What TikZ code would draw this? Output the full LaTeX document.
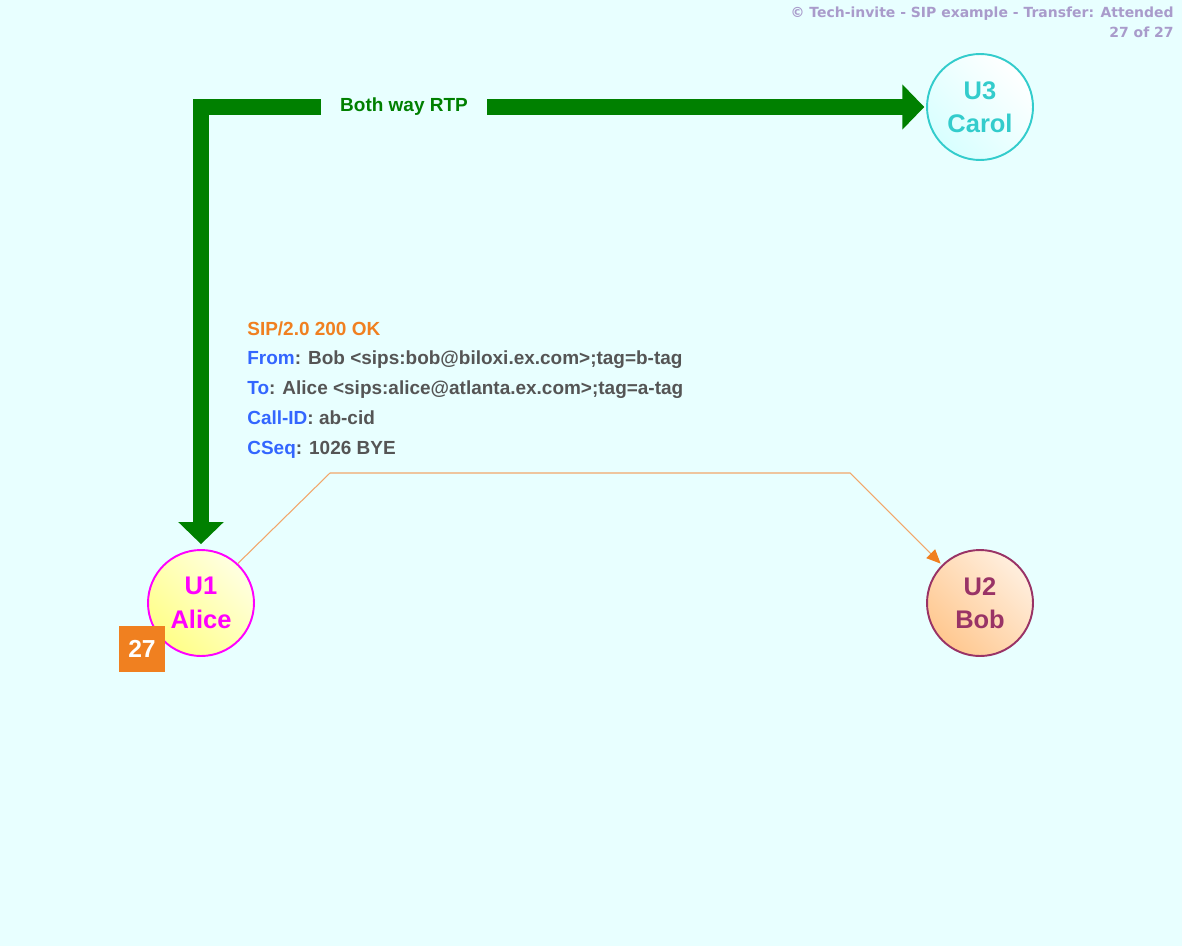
\documentclass[tikz,border=0pt]{standalone}
\usepackage{fontspec}
\setmainfont{Liberation Sans}
\newfontfamily\titlefont{DejaVu Sans}
\usepackage{tikz}
\usetikzlibrary{arrows.meta,positioning}
\definecolor{bgc}{HTML}{E8FFFF}
\definecolor{rtpc}{HTML}{008000}
\definecolor{msgc}{HTML}{F08020}
\definecolor{linec}{HTML}{F2A66A}
\definecolor{fieldc}{HTML}{3366FF}
\definecolor{valc}{HTML}{555555}
\definecolor{titlec}{HTML}{A99BCB}
\definecolor{alicec}{HTML}{FF00FF}
\definecolor{alicef}{HTML}{FFFF88}
\definecolor{bobc}{HTML}{993366}
\definecolor{bobf}{HTML}{FFC890}
\definecolor{carolc}{HTML}{33CCCC}
\definecolor{carolf}{HTML}{D8FFFF}

\begin{document}
\begin{tikzpicture}[x=0.02cm,y=-0.02cm,font=\bfseries,ua/.style={circle,draw=#1,text=#1,line width=1.1pt,minimum size=2.12cm,inner sep=0pt,align=center,font=\fontsize{14.5}{19}\selectfont\bfseries},rtp/.style={{Triangle[length=12.5pt,width=25pt]}-{Triangle[length=12.5pt,width=25pt]},line width=9pt,draw=rtpc},msg/.style={-{Triangle[length=8pt,width=7pt,color=msgc]},line width=.6pt,draw=linec},fld/.style={text=fieldc}]
\fill[bgc] (0,0) rectangle (1182,946);
\node[ua=alicec,shading=axis,top color=alicef!25,bottom color=alicef,shading angle=-45] (alice) at (201,603) {U1\\Alice};
\node[ua=bobc,shading=axis,top color=bobf!30,bottom color=bobf,shading angle=-45] (bob) at (980,603) {U2\\Bob};
\node[ua=carolc,shading=axis,top color=white,bottom color=carolf,shading angle=-45] (carol) at (980,107) {U3\\Carol};
\node[fill=msgc,text=white,minimum size=.93cm,inner sep=0pt,font=\fontsize{14}{16}\selectfont\bfseries] (num) at (142,649) {27};
\node[anchor=north east,align=right,inner sep=0pt,text=titlec,font=\titlefont\fontsize{7.95}{11.3}\selectfont\bfseries] (title) at (1174,7) {\textcopyright{} Tech-invite - SIP example - Transfer: Attended\\27 of 27};
\draw[rtp,shorten <=2.8pt,shorten >=1pt] (alice.north) |- node[pos=.64,fill=bgc,inner xsep=11pt,text=rtpc,font=\fontsize{10.8}{13}\selectfont\bfseries] (rtplab) {Both way RTP} (carol.west);
\node[anchor=north west,align=left,inner sep=0pt,text=valc,font=\fontsize{10.8}{17}\selectfont\bfseries] (sipmsg) at (247,321) {\textcolor{msgc}{SIP/2.0 200 OK}\\
\textcolor{fieldc}{From}: Bob <sips:bob@biloxi.ex.com>;tag=b-tag\\
\textcolor{fieldc}{To}: Alice <sips:alice@atlanta.ex.com>;tag=a-tag\\
\textcolor{fieldc}{Call-ID}: ab-cid\\
\textcolor{fieldc}{CSeq}: 1026 BYE};
\coordinate (m1) at (330,473);
\coordinate (m2) at (850,473);
\draw[msg,shorten >=1pt] (alice.47) -- (m1) -- (m2) -- (bob.135);
\end{tikzpicture}
\end{document}
